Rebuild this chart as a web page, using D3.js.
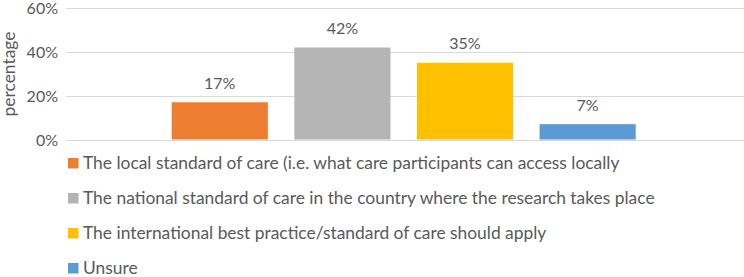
<!DOCTYPE html>
<html>
<head>
<meta charset="utf-8">
<script src="https://cdn.jsdelivr.net/npm/d3@7"></script>
<style>
  body { margin: 0; background: #fff; }
  text { font-family: Lato, "Open Sans", sans-serif; fill: #595959; }
</style>
</head>
<body>
<svg id="chart" width="744" height="277"></svg>
<script>
// answer options and their share (percent)
var categories = [
    "The local standard of care (i.e. what care participants can access locally",
    "The national standard of care in the country where the research takes place",
    "The international best practice/standard of care should apply",
    "Unsure"
];
var values = [17, 42, 35, 7];
var colors = ["#ED7D31", "#B4B4B4", "#FFC000", "#5B9BD5"];
var yTicks = [0, 20, 40, 60];

var data = categories.map(function(c, i) { return {label: c, value: values[i], color: colors[i]}; });

var svg = d3.select("#chart");

// plot area
var plotLeft = 66, plotRight = 744, plotTop = 8.1, plotBottom = 139.5;

var x = d3.scaleBand()
    .domain(categories)
    .range([171.7, 635.7])
    .paddingInner(0.216)
    .paddingOuter(0);

var y = d3.scaleLinear()
    .domain([0, 60])
    .range([plotBottom, plotTop]);

// gridlines
svg.append("g")
    .selectAll("line")
    .data(yTicks)
    .enter().append("line")
    .attr("x1", plotLeft)
    .attr("x2", plotRight)
    .attr("y1", function(d) { return Math.round(y(d)) + 0.5; })
    .attr("y2", function(d) { return Math.round(y(d)) + 0.5; })
    .attr("stroke", "#D9D9D9")
    .attr("stroke-width", 1.2);

// tick labels
svg.append("g")
    .selectAll("text")
    .data(yTicks)
    .enter().append("text")
    .attr("x", 58)
    .attr("y", function(d) { return y(d) + 6.2; })
    .style("text-anchor", "end")
    .style("font-size", "16px")
    .text(function(d) { return d + "%"; });

// axis title
svg.append("text")
    .attr("transform", "translate(14.5," + 74 + ") rotate(-90)")
    .style("text-anchor", "middle")
    .style("font-size", "17.4px")
    .text("percentage");

// bars
svg.append("g")
    .selectAll("rect")
    .data(data)
    .enter().append("rect")
    .attr("x", function(d) { return x(d.label); })
    .attr("y", function(d) { return y(d.value); })
    .attr("width", x.bandwidth())
    .attr("height", function(d) { return y(0) - y(d.value); })
    .attr("fill", function(d) { return d.color; });

// value labels
svg.append("g")
    .selectAll("text")
    .data(data)
    .enter().append("text")
    .attr("x", function(d) { return x(d.label) + x.bandwidth() / 2; })
    .attr("y", function(d) { return y(d.value) - 13.4; })
    .style("text-anchor", "middle")
    .style("font-size", "16px")
    .text(function(d) { return d.value + "%"; });

// legend
var legend = svg.selectAll(".legend")
    .data(data)
    .enter().append("g")
    .attr("class", "legend")
    .attr("transform", function(d, i) { return "translate(68," + (163 + i * 35) + ")"; });

legend.append("rect")
    .attr("x", 0)
    .attr("y", -5)
    .attr("width", 10.5)
    .attr("height", 10.5)
    .attr("fill", function(d) { return d.color; });

legend.append("text")
    .attr("x", 15)
    .attr("y", 6.2)
    .style("font-size", "17.4px")
    .text(function(d) { return d.label; });
</script>
</body>
</html>
